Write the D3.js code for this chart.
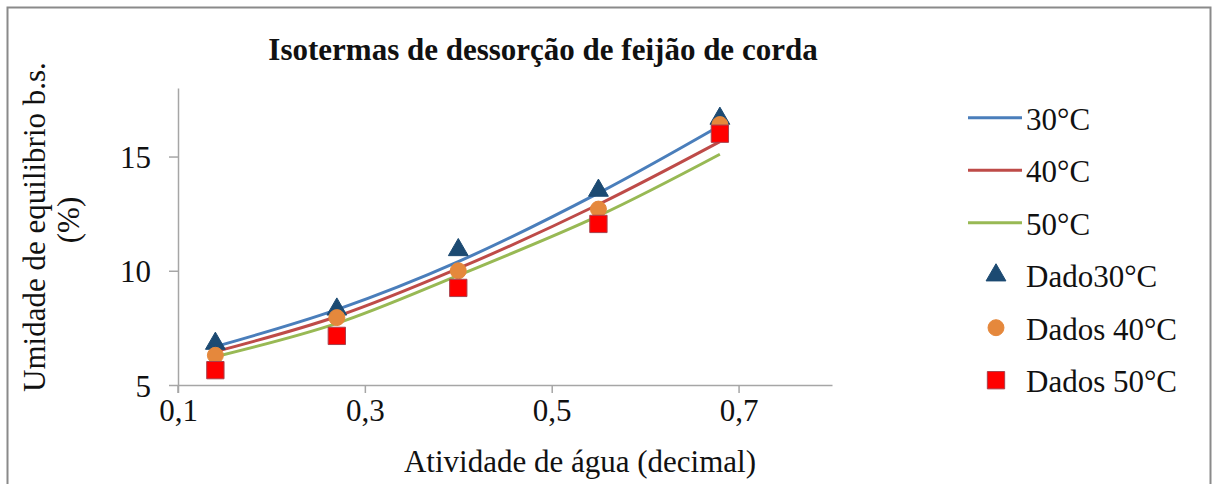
<!DOCTYPE html>
<html>
<head>
<meta charset="utf-8">
<script src="https://cdn.jsdelivr.net/npm/d3@7"></script>
<style>
  body { margin: 0; background: #fff; }
  svg, svg text { font-family: "Liberation Serif", "Times New Roman", serif; fill: #111; }
</style>
</head>
<body>
<svg id="chart" width="1212" height="484"></svg>
<script>
// water activity (x) for every series
const aw = [0.14, 0.27, 0.40, 0.55, 0.68];

// model curves
const model30 = [6.68, 8.3, 10.4, 13.4, 16.35];
const model40 = [6.46, 8.0, 10.1, 12.9, 15.65];
const model50 = [6.24, 7.7, 9.8, 12.4, 15.1];

// experimental points
const dados30 = [6.9, 8.4, 11.0, 13.6, 16.75];
const dados40 = [6.3, 7.95, 10.0, 12.7, 16.4];
const dados50 = [5.65, 7.15, 9.25, 12.05, 16.0];

const xTicks = [0.1, 0.3, 0.5, 0.7];
const yTicks = [5, 10, 15];

const lineSeries = [
  { name: "30°C", values: model30, color: "#4a7ebb" },
  { name: "40°C", values: model40, color: "#be4b48" },
  { name: "50°C", values: model50, color: "#98b954" }
];
const pointSeries = [
  { name: "Dado30°C", values: dados30, shape: "triangle", fill: "#1c4a72", stroke: "#1c4a72" },
  { name: "Dados 40°C", values: dados40, shape: "circle", fill: "#e5883c", stroke: "#e5883c" },
  { name: "Dados 50°C", values: dados50, shape: "square", fill: "#ff0000", stroke: "#a8404c" }
];

const serif = '"Liberation Serif", "Times New Roman", serif';
const svg = d3.select("#chart");

// outer frame
svg.append("rect")
  .attr("x", 7.5).attr("y", 7.5)
  .attr("width", 1203).attr("height", 520)
  .attr("fill", "none")
  .attr("stroke", "#8a8a8a")
  .attr("stroke-width", 2);

const x = d3.scaleLinear().domain([0.1, 0.8]).range([178, 832]);
const y = d3.scaleLinear().domain([5, 18]).range([385, 88]);

const fmt = d => d3.format(".1f")(d).replace(".", ",");

// axes
const xAxis = svg.append("g")
  .attr("transform", `translate(0,${y(5)})`)
  .call(d3.axisBottom(x).tickValues(xTicks).tickSize(8).tickSizeOuter(0).tickFormat(fmt));
const yAxis = svg.append("g")
  .attr("transform", `translate(${x(0.1)},0)`)
  .call(d3.axisLeft(y).tickValues(yTicks).tickSize(9).tickSizeOuter(0));

[xAxis, yAxis].forEach(g => {
  g.attr("font-family", null).style("font-family", serif);
  g.select(".domain").attr("stroke", "#a6a6a6").attr("stroke-width", 1.5);
  g.selectAll(".tick line").attr("stroke", "#a6a6a6").attr("stroke-width", 1.5);
  g.selectAll(".tick text")
    .style("font-family", serif)
    .attr("font-size", 31)
    .attr("fill", "#111");
});
// y-axis continues below the x axis like a tick
svg.append("line")
  .attr("x1", x(0.1)).attr("x2", x(0.1))
  .attr("y1", y(5)).attr("y2", y(5) + 8)
  .attr("stroke", "#a6a6a6").attr("stroke-width", 1.5);

xAxis.selectAll(".tick text").attr("y", 36).attr("dy", 0);
yAxis.selectAll(".tick text").attr("x", -27).attr("dy", 11);

function label(g, text, size) {
  return g.append("text")
    .style("font-family", serif)
    .attr("font-size", size)
    .text(text);
}

// title
label(svg, "Isotermas de dessorção de feijão de corda", 31)
  .attr("x", 543).attr("y", 60)
  .attr("text-anchor", "middle")
  .attr("font-weight", "bold");

// axis titles
label(svg, "Atividade de água (decimal)", 31)
  .attr("x", 580).attr("y", 472)
  .attr("text-anchor", "middle");

label(svg, "Umidade de equilibrio b.s.", 31)
  .attr("transform", "translate(45,227) rotate(-90)")
  .attr("text-anchor", "middle");
label(svg, "(%)", 31)
  .attr("transform", "translate(79,220) rotate(-90)")
  .attr("text-anchor", "middle");

// model lines
const line = d3.line()
  .x((d, i) => x(aw[i]))
  .y(d => y(d))
  .curve(d3.curveCatmullRom);

const lines = svg.append("g");
lineSeries.forEach(s => {
  lines.append("path")
    .attr("d", line(s.values))
    .attr("fill", "none")
    .attr("stroke", "#fff")
    .attr("stroke-width", 6);
  lines.append("path")
    .attr("d", line(s.values))
    .attr("fill", "none")
    .attr("stroke", s.color)
    .attr("stroke-width", 3);
});

// markers
const symbolType = {
  triangle: d3.symbolTriangle,
  circle: d3.symbolCircle,
  square: d3.symbolSquare
};
const symbolSize = { triangle: 170, circle: 200, square: 300 };

function drawMarker(g, shape, fill, stroke, cx, cy) {
  g.append("path")
    .attr("d", d3.symbol().type(symbolType[shape]).size(symbolSize[shape])())
    .attr("transform", `translate(${cx},${cy + (shape === "triangle" ? 2 : 0)})`)
    .attr("fill", fill)
    .attr("stroke", stroke)
    .attr("stroke-width", 1);
}

const markers = svg.append("g");
pointSeries.forEach(s => {
  s.values.forEach((v, i) => drawMarker(markers, s.shape, s.fill, s.stroke, x(aw[i]), y(v)));
});

// legend
const legend = svg.append("g");
const rowY = d3.scaleLinear().domain([0, 5]).range([117.7, 380.2]);
lineSeries.forEach((s, i) => {
  legend.append("line")
    .attr("x1", 968).attr("x2", 1022)
    .attr("y1", rowY(i)).attr("y2", rowY(i))
    .attr("stroke", s.color).attr("stroke-width", 3);
  label(legend, s.name, 31)
    .attr("x", 1026).attr("y", rowY(i) + 12);
});
pointSeries.forEach((s, j) => {
  const i = j + 3;
  drawMarker(legend, s.shape, s.fill, s.stroke, 996, rowY(i) - (s.shape === "triangle" ? 2 : 0));
  label(legend, s.name, 31)
    .attr("x", 1026).attr("y", rowY(i) + 12);
});
</script>
</body>
</html>
